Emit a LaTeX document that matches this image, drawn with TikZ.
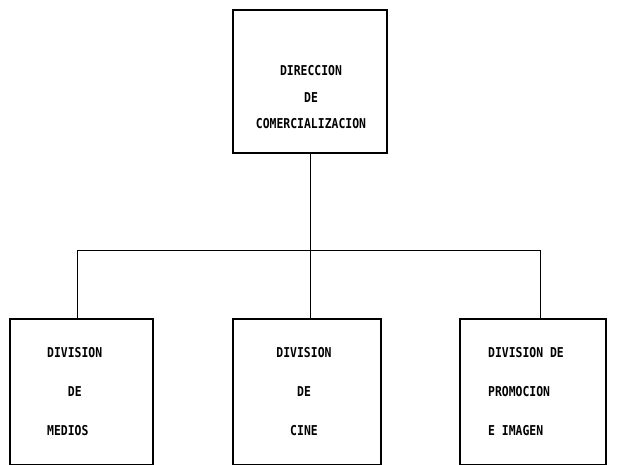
\documentclass[tikz,border=0pt]{standalone}
\usepackage{fontspec}
\newfontfamily\plotfont[FakeStretch=0.84]{DejaVu Sans Mono}
\begin{document}
\begin{tikzpicture}[x=1pt,y=-1pt,
  unit/.style={draw, line width=2.6pt, rectangle, inner sep=0pt},
  txt/.style={font=\plotfont\bfseries\fontsize{13.6}{26.5}\selectfont, inner sep=0pt},
  lowtxt/.style={font=\plotfont\bfseries\fontsize{13.6}{39}\selectfont, inner sep=0pt},
  link/.style={line width=0.9pt}]
\useasboundingbox (0,0) rectangle (622,464);
\clip (0,0) rectangle (622,464);

% head office
\node[unit, minimum width=154pt, minimum height=143pt] (top) at (310,81.5) {};
\node[txt, align=center] (toptxt) at (311,97.5)
  {DIRECCION\\DE\\COMERCIALIZACION};

% divisions
\node[unit, minimum width=143pt, minimum height=146pt] (left) at (81.5,392) {};
\node[lowtxt, align=left, anchor=west] (lefttxt) at (47,392)
  {DIVISION\\\hspace*{20.7pt}DE\\MEDIOS};

\node[unit, minimum width=148pt, minimum height=146pt] (mid) at (307,392) {};
\node[lowtxt, align=center] (midtxt) at (304,392)
  {DIVISION\\DE\\CINE};

\node[unit, minimum width=146pt, minimum height=146pt] (right) at (533,392) {};
\node[lowtxt, align=left, anchor=west] (righttxt) at (488,392)
  {DIVISION DE\\PROMOCION\\E IMAGEN};

% connectors
\coordinate (hl) at (77,250);
\coordinate (hm) at (310,250);
\coordinate (hr) at (540,250);
\draw[link] (top.south) -- (hm);
\draw[link] (hl) -- (hr);
\draw[link] (hl) -- (hl |- left.north);
\draw[link] (hm) -- (hm |- mid.north);
\draw[link] (hr) -- (hr |- right.north);
\end{tikzpicture}
\end{document}
